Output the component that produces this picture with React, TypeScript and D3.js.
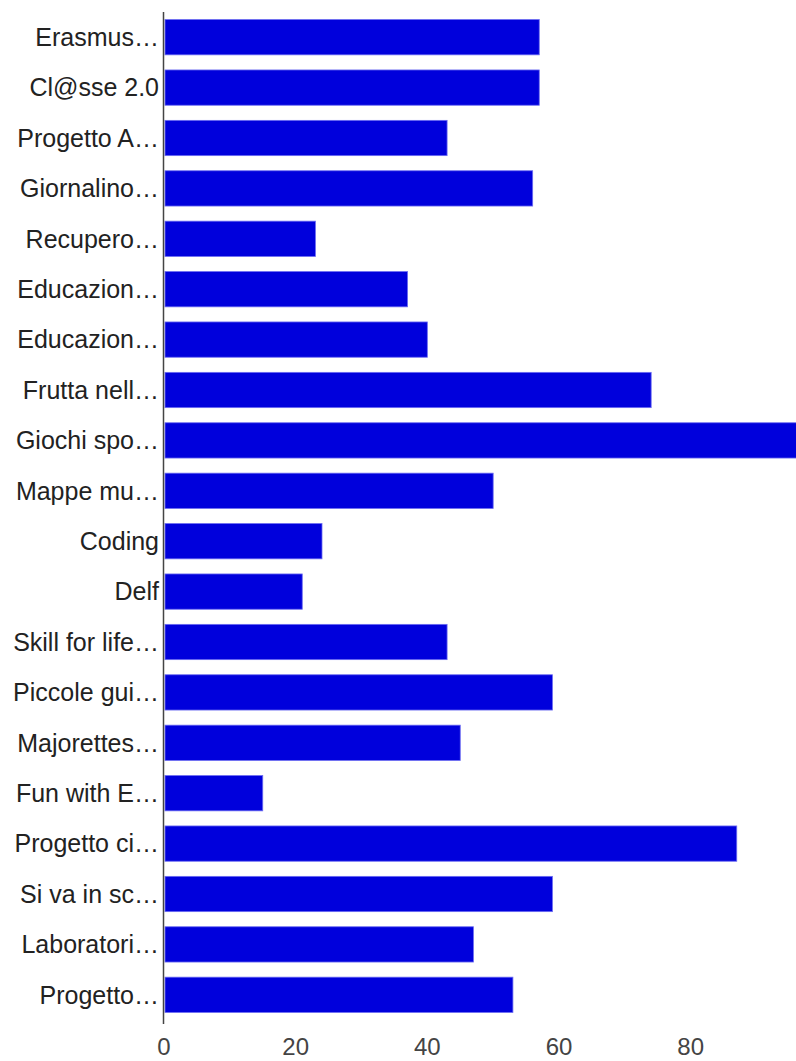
import React, { useEffect, useRef } from 'react'
import * as d3 from 'd3'

const categories = [
  'Erasmus…',
  'Cl@sse 2.0',
  'Progetto A…',
  'Giornalino…',
  'Recupero…',
  'Educazion…',
  'Educazion…',
  'Frutta nell…',
  'Giochi spo…',
  'Mappe mu…',
  'Coding',
  'Delf',
  'Skill for life…',
  'Piccole gui…',
  'Majorettes…',
  'Fun with E…',
  'Progetto ci…',
  'Si va in sc…',
  'Laboratori…',
  'Progetto…',
]

const values = [57, 57, 43, 56, 23, 37, 40, 74, 97, 50, 24, 21, 43, 59, 45, 15, 87, 59, 47, 53]

const xTicks = [0, 20, 40, 60, 80]

const App: React.FC = () => {
  const ref = useRef<SVGSVGElement | null>(null)

  useEffect(() => {
    if (!ref.current) return
    const width = 796
    const height = 1061
    const left = 164
    const top = 12
    const bottom = 1020

    const svg = d3.select(ref.current)
    svg.selectAll('*').remove()
    svg.attr('width', width).attr('height', height)

    const x = d3.scaleLinear().domain([0, 96]).range([left, width])
    const y = d3.scaleBand<number>()
      .domain(d3.range(categories.length))
      .range([top, bottom])
      .paddingInner(0.3)
      .paddingOuter(0.15)

    svg.append('defs').append('clipPath').attr('id', 'plot')
      .append('rect').attr('x', left).attr('y', 0).attr('width', width - left).attr('height', height)

    svg.append('g')
      .attr('clip-path', 'url(#plot)')
      .selectAll('rect')
      .data(values)
      .enter()
      .append('rect')
      .attr('x', x(0) + 1)
      .attr('y', (d, i) => y(i) as number)
      .attr('width', d => x(d) - x(0) - 1)
      .attr('height', y.bandwidth())
      .attr('fill', '#0000dc')
      .attr('stroke', '#6b6bf2')
      .attr('stroke-width', 0.8)

    // category labels
    svg.append('g')
      .selectAll('text')
      .data(categories)
      .enter()
      .append('text')
      .attr('x', left - 5)
      .attr('y', (d, i) => (y(i) as number) + y.bandwidth() / 2)
      .attr('dy', '0.35em')
      .attr('text-anchor', 'end')
      .style('font-family', 'Arial, "Liberation Sans", sans-serif')
      .style('font-size', '25px')
      .style('fill', '#222')
      .text(d => d)

    // axis line
    svg.append('line')
      .attr('x1', left - 0.5)
      .attr('x2', left - 0.5)
      .attr('y1', top)
      .attr('y2', 1024)
      .attr('stroke', '#444')
      .attr('stroke-width', 1.5)

    // x tick labels
    svg.append('g')
      .selectAll('text')
      .data(xTicks)
      .enter()
      .append('text')
      .attr('x', d => x(d))
      .attr('y', 1055)
      .attr('text-anchor', 'middle')
      .style('font-family', 'Arial, "Liberation Sans", sans-serif')
      .style('font-size', '24px')
      .style('fill', '#444')
      .text(d => d)
  }, [])

  return <svg ref={ref} style={{ position: 'absolute', left: 0, top: 0, background: '#fff' }}></svg>
}

export default App
